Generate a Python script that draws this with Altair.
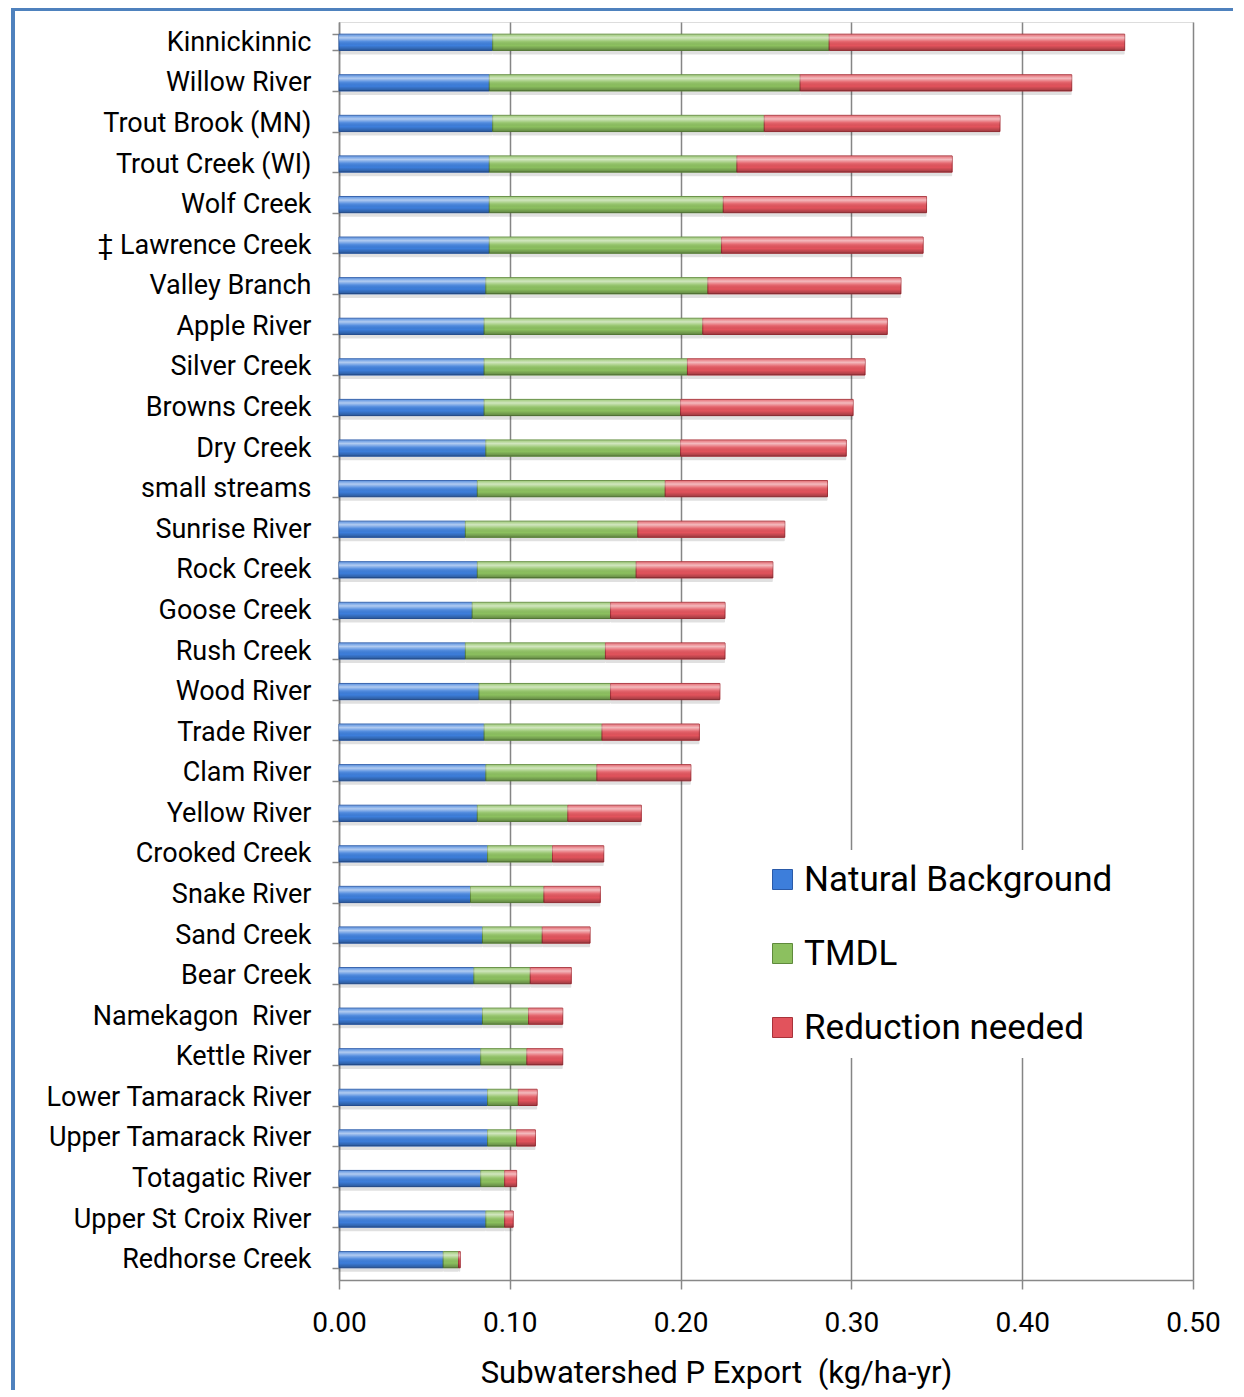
import altair as alt
import pandas as pd

streams = ["Kinnickinnic", "Willow River", "Trout Brook (MN)", "Trout Creek (WI)", "Wolf Creek",
           "‡ Lawrence Creek", "Valley Branch", "Apple River", "Silver Creek", "Browns Creek",
           "Dry Creek", "small streams", "Sunrise River", "Rock Creek", "Goose Creek",
           "Rush Creek", "Wood River", "Trade River", "Clam River", "Yellow River",
           "Crooked Creek", "Snake River", "Sand Creek", "Bear Creek", "Namekagon \u00a0River",
           "Kettle River", "Lower Tamarack River", "Upper Tamarack River", "Totagatic River",
           "Upper St Croix River", "Redhorse Creek"]
natural = [0.090, 0.088, 0.090, 0.088, 0.088, 0.088, 0.086, 0.085, 0.085, 0.085,
           0.086, 0.081, 0.074, 0.081, 0.078, 0.074, 0.082, 0.085, 0.086, 0.081,
           0.087, 0.077, 0.084, 0.079, 0.084, 0.083, 0.087, 0.087, 0.083, 0.086, 0.061]
tmdl = [0.197, 0.182, 0.159, 0.145, 0.137, 0.136, 0.130, 0.128, 0.119, 0.115,
        0.114, 0.110, 0.101, 0.093, 0.081, 0.082, 0.077, 0.069, 0.065, 0.053,
        0.038, 0.043, 0.035, 0.033, 0.027, 0.027, 0.018, 0.017, 0.014, 0.011, 0.009]
reduction = [0.173, 0.159, 0.138, 0.126, 0.119, 0.118, 0.113, 0.108, 0.104, 0.101,
             0.097, 0.095, 0.086, 0.080, 0.067, 0.070, 0.064, 0.057, 0.055, 0.043,
             0.030, 0.033, 0.028, 0.024, 0.020, 0.021, 0.011, 0.011, 0.007, 0.005, 0.001]
series = ["Natural Background", "TMDL", "Reduction needed"]
x_ticks = [0.0, 0.1, 0.2, 0.3, 0.4, 0.5]
x_title = "Subwatershed P Export \u00a0(kg/ha-yr)"

rows = []
for i, s in enumerate(streams):
    for k, (name, vals) in enumerate(zip(series, [natural, tmdl, reduction])):
        rows.append({"stream": s, "series": name, "order": k, "value": vals[i]})
df = pd.DataFrame(rows)

FONT = "Roboto, sans-serif"

colors = ["#3D7EDB", "#8CC05F", "#E2535C"]
strokes = ["#2A5AA8", "#5F8A3C", "#A8323A"]

y_enc = alt.Y("stream:N", sort=streams, title=None,
              scale=alt.Scale(paddingInner=0.6, paddingOuter=0.3),
              axis=alt.Axis(labelFontSize=27, labelFont=FONT, labelColor="#000000",
                            tickBand="extent", tickSize=7, tickColor="#888888", tickWidth=1.5,
                            domainColor="#888888", domainWidth=1.5, labelPadding=21,
                            labelLimit=330))
x_enc = alt.X("x0:Q", title=x_title,
              scale=alt.Scale(domain=[0, 0.5], nice=False),
              axis=alt.Axis(values=x_ticks, format=".2f", labelFontSize=28, labelFont=FONT,
                            labelColor="#000000", labelFlush=False,
                            titleFontSize=31, titleFont=FONT, titleX=377, titleAlign="center",
                            titleFontWeight="normal", titleColor="#000000", titlePadding=21,
                            grid=True, gridColor="#858585", gridWidth=1.5, tickSize=9,
                            tickColor="#888888", tickWidth=1.5, domainColor="#888888",
                            domainWidth=1.5, labelPadding=20))

base = alt.Chart(df).transform_stack(
    stack="value", groupby=["stream"], as_=["x0", "x1"],
    sort=[alt.SortField("order", order="ascending")]
)

shadow = base.mark_bar(color="#000000", opacity=0.12, yOffset=4, cornerRadius=1).encode(
    y=y_enc, x=x_enc, x2="x1:Q")

bars = base.mark_bar(strokeWidth=1).encode(
    y=y_enc, x=x_enc, x2="x1:Q",
    color=alt.Color("series:N", scale=alt.Scale(domain=series, range=colors),
                    sort=series,
                    legend=alt.Legend(title=None, orient="none", legendX=414, legendY=828,
                                      labelFontSize=35, labelFont=FONT, labelColor="#000000",
                                      symbolType="square", symbolSize=400, symbolStrokeWidth=1,
                                      labelOffset=4, rowPadding=38, fillColor="#FFFFFF",
                                      padding=12, labelLimit=400)),
    stroke=alt.Stroke("series:N", scale=alt.Scale(domain=series, range=strokes), legend=None),
)

gloss = base.mark_bar(
    color=alt.Gradient(
        gradient="linear", x1=0, y1=0, x2=0, y2=1,
        stops=[alt.GradientStop(color="rgba(255,255,255,0.15)", offset=0),
               alt.GradientStop(color="rgba(255,255,255,0.6)", offset=0.22),
               alt.GradientStop(color="rgba(255,255,255,0.12)", offset=0.45),
               alt.GradientStop(color="rgba(0,0,0,0.0)", offset=0.7),
               alt.GradientStop(color="rgba(0,0,0,0.3)", offset=1.0)])
).encode(y=y_enc, x=x_enc, x2="x1:Q")

frame_left = alt.Chart(df).mark_rule(color="#4F81BD", strokeWidth=3).encode(
    x=alt.value(-326), y=alt.value(-14), y2=alt.value(1390))
frame_top = alt.Chart(df).mark_rule(color="#4F81BD", strokeWidth=3).encode(
    x=alt.value(-327), x2=alt.value(897), y=alt.value(-13))

chart = alt.layer(shadow, bars, gloss, frame_left, frame_top).properties(
    width=854, height=1258,
    autosize=alt.AutoSizeParams(type="none"),
    padding={"left": 331, "top": 14, "right": 40, "bottom": 110}
).configure_view(stroke="#8C8C8C", strokeWidth=1.5).configure(background="#FFFFFF")

chart.save("out.html", embed_options={"renderer": "svg", "actions": False})
